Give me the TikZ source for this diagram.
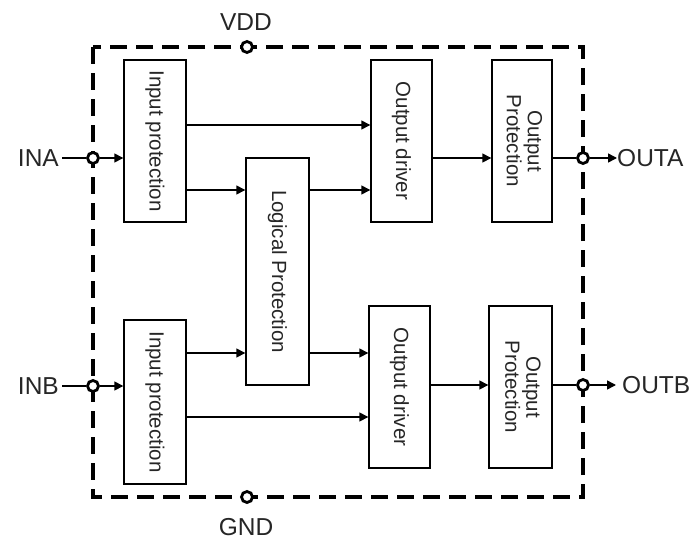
\documentclass[tikz,border=0pt]{standalone}
\usepackage{fontspec}
\setmainfont{Liberation Sans}
\usetikzlibrary{arrows.meta}
\begin{document}
\begin{tikzpicture}[x=1pt,y=-1pt,
  blk/.style={draw, line width=1.4pt, inner sep=0pt, align=center, font=\fontsize{20.5}{23}\selectfont, text=black!85},
  conn/.style={line width=1.5pt},
  arr/.style={line width=1.5pt, -{Triangle[length=9pt,width=9pt]}},
  border/.style={line width=3.8pt, dash pattern=on 17pt off 9pt},
  term/.style={circle, draw, fill=white, line width=2.8pt, inner sep=0pt, minimum size=11pt},
  lbl/.style={font=\fontsize{24.5}{28}\selectfont, text=black!85, inner sep=0pt}]
\useasboundingbox[fill=white] (0,0) rectangle (694,541);
% border
\draw[border] (93,47) rectangle (583,497);
% blocks
\node[blk, minimum width=62pt, minimum height=162pt] (inA) at (155,141) {\rotatebox{-90}{Input protection}};
\node[blk, minimum width=63pt, minimum height=227pt] (logic) at (277.5,271.5) {\rotatebox{-90}{Logical Protection}};
\node[blk, minimum width=61pt, minimum height=162pt] (drvA) at (401.5,141) {\rotatebox{-90}{Output driver}};
\node[blk, minimum width=60pt, minimum height=162pt] (protA) at (522,141) {\rotatebox{-90}{\begin{tabular}{@{}c@{}}Output\\[-2pt]Protection\end{tabular}}};
\node[blk, minimum width=62pt, minimum height=164pt] (inB) at (155,402) {\rotatebox{-90}{Input protection}};
\node[blk, minimum width=61pt, minimum height=162pt] (drvB) at (399.5,387) {\rotatebox{-90}{Output driver}};
\node[blk, minimum width=63pt, minimum height=162pt] (protB) at (520.5,387) {\rotatebox{-90}{\begin{tabular}{@{}c@{}}Output\\[-2pt]Protection\end{tabular}}};
% row coordinates
\coordinate (r1) at (0,125);
\coordinate (r2) at (0,190);
\coordinate (rA) at (0,158);
\coordinate (r3) at (0,353);
\coordinate (r4) at (0,417);
\coordinate (rB) at (0,385);
% terminals
\node[term] (vdd) at (247,47) {};
\node[term] (gnd) at (247,497) {};
\node[term] (tina) at (93,158) {};
\node[term] (tinb) at (93,386) {};
\node[term] (touta) at (583,158) {};
\node[term] (toutb) at (583,385) {};
% labels
\node[lbl] (lvdd) at (246,22) {VDD};
\node[lbl] (lgnd) at (246,527) {GND};
\node[lbl, anchor=east] (lina) at (59,158) {INA};
\node[lbl, anchor=east] (linb) at (59,386) {INB};
\node[lbl, anchor=west] (louta) at (617,158) {OUTA};
\node[lbl, anchor=west] (loutb) at (622,385) {OUTB};
% connectors channel A
\draw[conn] (lina.east) ++(3pt,0) -- (tina.west);
\draw[arr] (tina.east) -- (inA.west |- tina);
\draw[arr] (inA.east |- r1) -- (drvA.west |- r1);
\draw[arr] (inA.east |- r2) -- (logic.west |- r2);
\draw[arr] (logic.east |- r2) -- (drvA.west |- r2);
\draw[arr] (drvA.east |- rA) -- (protA.west |- rA);
\draw[conn] (protA.east |- rA) -- (touta.west);
\draw[arr] (touta.east) -- (louta.west);
% connectors channel B
\draw[conn] (linb.east) ++(3pt,0) -- (tinb.west);
\draw[arr] (tinb.east) -- (inB.west |- tinb);
\draw[arr] (inB.east |- r3) -- (logic.west |- r3);
\draw[arr] (inB.east |- r4) -- (drvB.west |- r4);
\draw[arr] (logic.east |- r3) -- (drvB.west |- r3);
\draw[arr] (drvB.east |- rB) -- (protB.west |- rB);
\draw[conn] (protB.east |- rB) -- (toutb.west);
\draw[arr] (toutb.east) -- ([xshift=-6pt]loutb.west);
\end{tikzpicture}
\end{document}
